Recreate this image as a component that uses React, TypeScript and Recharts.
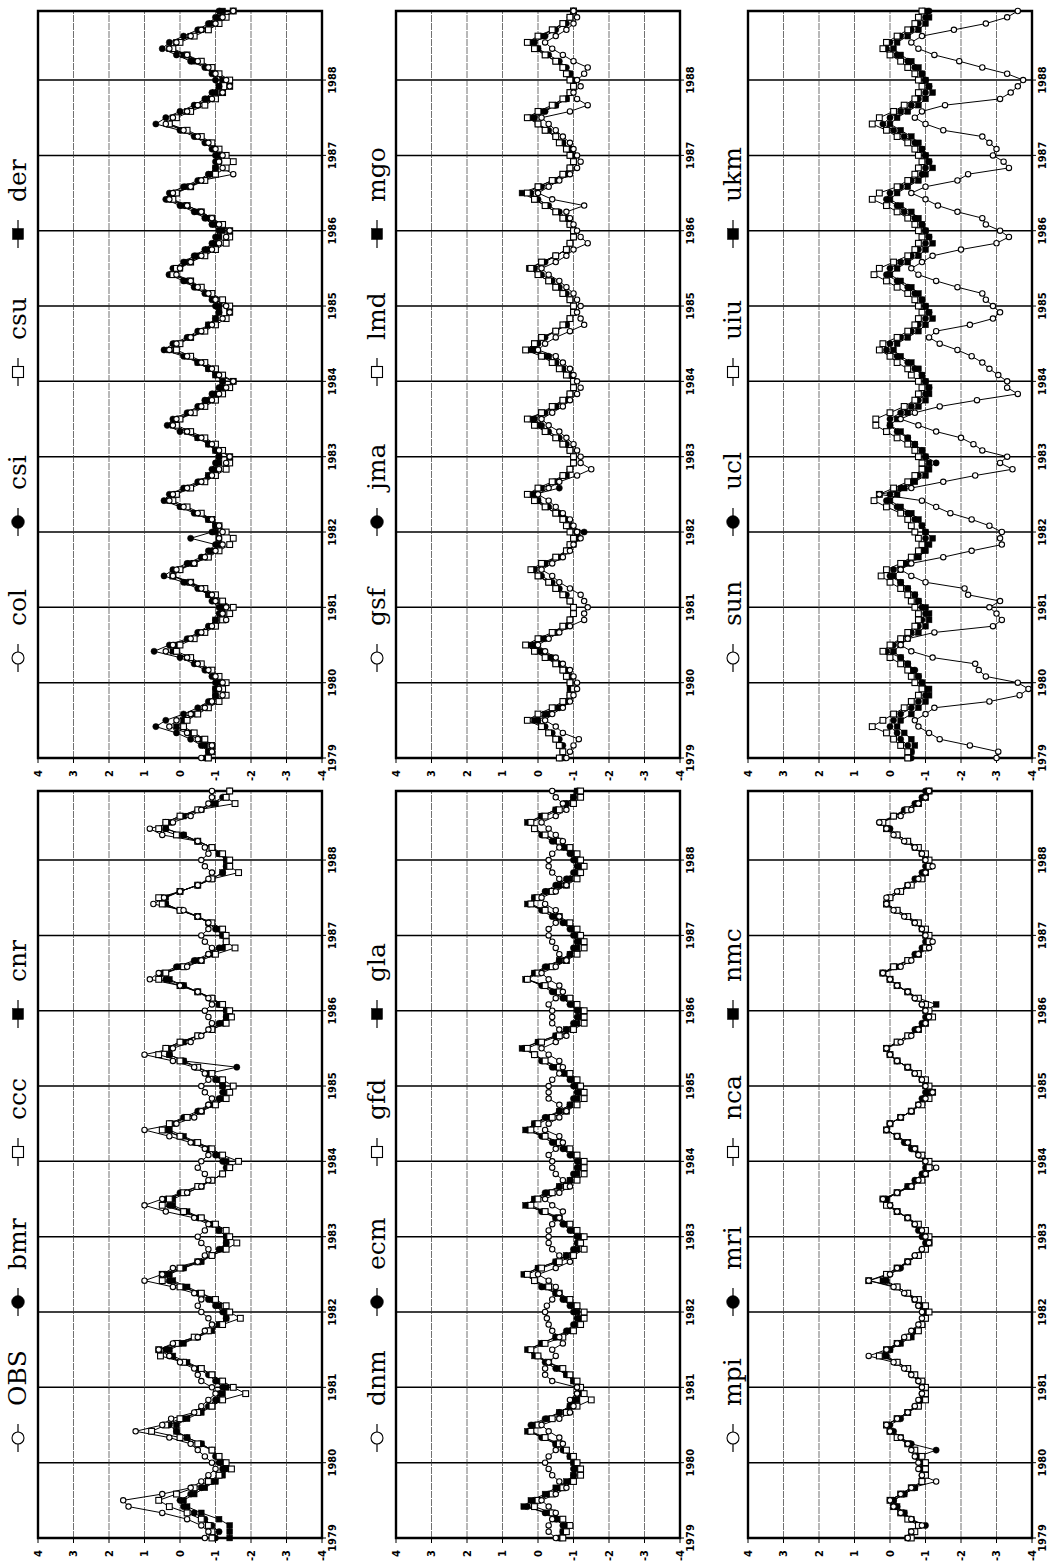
import React from 'react'
import { LineChart, Line, XAxis, YAxis, CartesianGrid, ReferenceArea } from 'recharts'

// monthly values Jan 1979 .. Dec 1988, one row per year
const YEARS = ['1979', '1980', '1981', '1982', '1983', '1984', '1985', '1986', '1987', '1988']
const YEAR_TICKS = [0, 12, 24, 36, 48, 60, 72, 84, 96, 108]
const Y_TICKS = [4, 3, 2, 1, 0, -1, -2, -3, -4]
const MONTHS = Array.from({ length: 120 }, (_, i) => i)

const OBS = [
  -0.7, -0.8, -0.6, -0.2, 0.5, 1.45, 1.6, 0.5, -0.3, -0.6, -0.8, -1.0,
  -0.9, -0.7, -0.5, -0.3, 0.3, 1.25, 0.5, 0.25, -0.4, -0.6, -0.8, -1.0,
  -0.9, -0.6, -0.5, -0.4, 0.0, 0.3, 0.6, 0.2, -0.5, -0.7, -0.9, -0.8,
  -0.6, -0.5, -0.6, -0.4, 0.2, 1.0, 0.5, 0.2, -0.5, -0.7, -0.8, -0.6,
  -0.5, -0.7, -0.8, -0.4, 0.4, 1.0, 0.5, -0.2, -0.6, -0.8, -0.7, -0.5,
  -0.6, -0.8, -0.7, -0.3, 0.3, 1.0, 0.1, -0.4, -0.6, -0.8, -0.9, -0.7,
  -0.6, -0.8, -0.7, -0.4, 0.2, 1.0, 0.2, -0.3, -0.6, -0.8, -0.9, -0.8,
  -0.7, -0.9, -0.8, -0.5, 0.0, 0.85, 0.6, -0.2, -0.6, -0.8, -0.9, -0.7,
  -0.6, -0.8, -0.8, -0.5, -0.1, 0.75, 0.45, 0.0, -0.5, -0.8, -0.9, -0.7,
  -0.6, -0.8, -0.7, -0.5, 0.5, 0.85, 0.2, -0.3, -0.6, -0.8, -0.9, -0.9,
]
const BMR = [
  -1.0, -1.1, -0.9, -0.7, -0.4, -0.1, 0.0, -0.3, -0.6, -0.9, -1.1, -1.2,
  -1.1, -1.0, -0.9, -0.6, -0.2, 0.1, 0.3, -0.1, -0.5, -0.8, -1.0, -1.1,
  -1.2, -1.0, -0.8, -0.5, -0.1, 0.3, 0.4, 0.0, -0.5, -0.8, -1.1, -1.3,
  -1.2, -1.0, -0.8, -0.5, -0.1, 0.3, 0.4, -0.1, -0.5, -0.9, -1.1, -1.3,
  -1.3, -1.1, -0.9, -0.5, -0.1, 0.3, 0.4, 0.0, -0.5, -0.9, -1.2, -1.3,
  -1.2, -1.0, -0.8, -0.4, 0.0, 0.4, 0.3, -0.1, -0.5, -0.8, -1.1, -1.2,
  -1.2, -1.0, -0.8, -1.6, -0.1, 0.3, 0.4, 0.0, -0.5, -0.9, -1.1, -1.3,
  -1.3, -1.1, -0.9, -0.5, -0.1, 0.4, 0.5, 0.1, -0.4, -0.8, -1.1, -1.3,
  -1.2, -1.0, -0.8, -0.5, 0.0, 0.4, 0.5, 0.0, -0.5, -0.9, -1.2, -1.3,
  -1.3, -1.1, -0.9, -0.5, -0.1, 0.4, 0.4, 0.0, -0.5, -0.9, -1.2, -1.4,
]
const CCC = [
  -0.9, -0.9, -0.8, -0.6, -0.2, 0.3, 0.6, 0.1, -0.4, -0.8, -1.1, -1.45,
  -1.3, -1.1, -0.9, -0.5, 0.0, 0.8, 0.4, 0.0, -0.5, -0.9, -1.2, -1.85,
  -1.5, -1.2, -0.9, -0.6, -0.1, 0.55, 0.6, 0.1, -0.4, -0.8, -1.2, -1.7,
  -1.4, -1.3, -1.0, -0.6, 0.0, 0.5, 0.5, 0.0, -0.5, -0.9, -1.3, -1.6,
  -1.4, -1.3, -1.0, -0.6, -0.1, 0.5, 0.3, -0.1, -0.5, -0.9, -1.2, -1.4,
  -1.65, -1.2, -0.9, -0.5, 0.0, 0.5, 0.3, -0.2, -0.6, -1.0, -1.3, -1.4,
  -1.5, -1.2, -0.9, -0.5, 0.0, 0.6, 0.4, 0.0, -0.5, -0.9, -1.3, -1.45,
  -1.4, -1.2, -0.9, -0.5, 0.0, 0.6, 0.4, -0.1, -0.6, -1.0, -1.55, -1.3,
  -1.3, -1.2, -0.9, -0.5, 0.0, 0.5, 0.6, 0.0, -0.5, -0.9, -1.65, -1.4,
  -1.4, -1.2, -0.9, -0.5, 0.1, 0.6, 0.4, 0.0, -0.5, -1.55, -1.3, -1.4,
]
const CNR = [
  -1.4, -1.4, -1.4, -1.1, -0.6, -0.2, -0.1, -0.4, -0.7, -1.0, -1.2, -1.3,
  -1.2, -1.1, -0.9, -0.6, -0.2, 0.1, 0.1, -0.2, -0.6, -0.9, -1.1, -1.2,
  -1.3, -1.1, -0.9, -0.6, -0.2, 0.2, 0.3, -0.1, -0.5, -0.9, -1.1, -1.3,
  -1.3, -1.1, -0.9, -0.6, -0.2, 0.2, 0.3, -0.1, -0.6, -0.9, -1.2, -1.3,
  -1.3, -1.1, -0.9, -0.6, -0.2, 0.2, 0.2, -0.2, -0.6, -0.9, -1.2, -1.4,
  -1.3, -1.1, -0.8, -0.5, -0.1, 0.3, 0.2, -0.2, -0.6, -0.9, -1.2, -1.3,
  -1.2, -1.1, -0.8, -0.5, -0.1, 0.3, 0.3, -0.1, -0.5, -0.9, -1.2, -1.3,
  -1.3, -1.1, -0.9, -0.5, -0.1, 0.3, 0.4, 0.0, -0.5, -0.9, -1.2, -1.3,
  -1.2, -1.1, -0.8, -0.5, 0.0, 0.4, 0.4, 0.0, -0.5, -0.9, -1.2, -1.3,
  -1.3, -1.1, -0.9, -0.5, -0.1, 0.4, 0.3, -0.1, -0.6, -1.0, -1.3, -1.4,
]

const DNM = [
  -0.5, -0.3, -0.3, -0.4, -0.5, -0.3, -0.1, -0.5, -0.8, -0.6, -0.4, -0.3,
  -0.2, -0.3, -0.5, -0.7, -0.6, -0.3, -0.1, -0.6, -0.9, -1.0, -0.9, -1.1,
  -1.1, -0.4, -0.2, -0.2, -0.3, -0.5, -0.4, -0.7, -0.6, -0.4, -0.3, -0.25,
  -0.2, -0.25, -0.4, -0.6, -0.5, -0.3, 0.0, -0.5, -0.9, -0.6, -0.4, -0.3,
  -0.3, -0.3, -0.4, -0.6, -0.7, -0.4, -0.2, -0.6, -0.9, -0.7, -0.5, -0.4,
  -0.4, -0.3, -0.5, -0.7, -0.6, -0.2, -0.3, -0.6, -0.8, -0.6, -0.3, -0.3,
  -0.3, -0.4, -0.6, -0.7, -0.6, -0.3, -0.1, -0.5, -0.8, -0.6, -0.4, -0.4,
  -0.4, -0.3, -0.5, -0.7, -0.6, -0.3, -0.1, -0.5, -0.8, -0.6, -0.5, -0.4,
  -0.3, -0.3, -0.5, -0.6, -0.5, -0.2, -0.1, -0.5, -0.8, -0.6, -0.4, -0.3,
  -0.3, -0.4, -0.6, -0.7, -0.5, -0.3, -0.1, -0.5, -0.8, -0.7, -0.5, -0.4,
]
const ECM = [
  -0.6, -0.7, -0.7, -0.5, -0.2, 0.3, 0.1, -0.3, -0.6, -0.9, -1.0, -1.0,
  -1.0, -0.9, -0.7, -0.5, -0.1, 0.25, 0.2, -0.2, -0.6, -0.9, -1.0, -1.1,
  -1.1, -1.0, -0.8, -0.5, -0.2, 0.0, 0.25, -0.1, -0.5, -0.8, -1.0, -1.1,
  -1.0, -0.9, -0.7, -0.5, -0.1, 0.1, 0.35, 0.0, -0.5, -0.8, -1.0, -1.1,
  -1.1, -0.9, -0.7, -0.5, -0.1, 0.3, 0.1, -0.2, -0.6, -0.9, -1.0, -1.1,
  -1.1, -0.9, -0.7, -0.4, -0.1, 0.3, 0.1, -0.2, -0.6, -0.9, -1.0, -1.1,
  -1.0, -0.9, -0.7, -0.4, -0.1, 0.1, 0.4, 0.0, -0.5, -0.8, -1.0, -1.1,
  -1.1, -0.9, -0.7, -0.4, -0.1, 0.3, 0.1, -0.2, -0.6, -0.9, -1.0, -1.1,
  -1.0, -0.9, -0.7, -0.4, -0.1, 0.25, 0.1, -0.2, -0.5, -0.8, -1.0, -1.1,
  -1.0, -0.9, -0.7, -0.4, -0.1, 0.1, 0.25, -0.1, -0.5, -0.8, -1.0, -1.1,
]
const GFD = [
  -0.7, -0.8, -0.9, -0.7, -0.4, 0.1, 0.0, -0.4, -0.7, -1.0, -1.2, -1.2,
  -1.1, -1.0, -0.8, -0.6, -0.2, 0.2, 0.0, -0.4, -0.8, -1.1, -1.5, -1.3,
  -1.2, -1.1, -0.9, -0.7, -0.3, 0.0, 0.2, -0.2, -0.7, -1.0, -1.2, -1.3,
  -1.3, -1.1, -0.9, -0.6, -0.3, 0.1, 0.3, -0.1, -0.6, -1.0, -1.3, -1.2,
  -1.3, -1.1, -0.9, -0.6, -0.2, 0.2, 0.0, -0.4, -0.8, -1.1, -1.3, -1.3,
  -1.3, -1.1, -0.9, -0.6, -0.2, 0.2, 0.0, -0.4, -0.8, -1.1, -1.3, -1.3,
  -1.2, -1.1, -0.9, -0.6, -0.2, 0.1, 0.3, -0.1, -0.6, -1.0, -1.3, -1.3,
  -1.3, -1.1, -0.9, -0.6, -0.2, 0.3, 0.0, -0.4, -0.8, -1.1, -1.3, -1.3,
  -1.2, -1.1, -0.9, -0.6, -0.2, 0.2, 0.0, -0.4, -0.8, -1.1, -1.2, -1.3,
  -1.2, -1.1, -0.9, -0.6, -0.2, 0.1, 0.2, -0.2, -0.6, -1.0, -1.2, -1.2,
]
const GLA = [
  -0.6, -0.7, -0.8, -0.6, -0.3, 0.4, 0.2, -0.2, -0.5, -0.8, -1.0, -1.1,
  -1.0, -0.9, -0.8, -0.5, -0.2, 0.3, 0.1, -0.3, -0.6, -0.9, -1.1, -1.2,
  -1.2, -1.0, -0.8, -0.6, -0.3, 0.1, 0.3, -0.1, -0.5, -0.9, -1.1, -1.2,
  -1.1, -1.0, -0.8, -0.5, -0.2, 0.1, 0.4, 0.0, -0.5, -0.8, -1.1, -1.2,
  -1.2, -1.0, -0.8, -0.5, -0.2, 0.35, 0.1, -0.3, -0.6, -0.9, -1.1, -1.2,
  -1.2, -1.0, -0.8, -0.5, -0.2, 0.35, 0.1, -0.3, -0.6, -0.9, -1.1, -1.2,
  -1.1, -1.0, -0.8, -0.5, -0.2, 0.1, 0.45, 0.0, -0.5, -0.8, -1.1, -1.2,
  -1.2, -1.0, -0.8, -0.5, -0.2, 0.35, 0.1, -0.3, -0.6, -0.9, -1.1, -1.2,
  -1.1, -1.0, -0.8, -0.5, -0.2, 0.3, 0.1, -0.3, -0.6, -0.9, -1.1, -1.2,
  -1.1, -1.0, -0.8, -0.5, -0.2, 0.1, 0.3, -0.1, -0.5, -0.8, -1.0, -1.1,
]

const MPI = [
  -0.5, -0.6, -0.9, -0.6, -0.3, -0.1, 0.0, -0.3, -0.6, -1.3, -0.9, -0.8,
  -0.8, -0.7, -0.6, -0.5, -0.3, 0.0, 0.1, -0.2, -0.5, -0.7, -0.8, -0.9,
  -0.9, -0.8, -0.6, -0.4, -0.1, 0.6, 0.1, -0.2, -0.4, -0.6, -0.8, -0.9,
  -0.9, -0.8, -0.7, -0.4, -0.1, 0.6, 0.0, -0.2, -0.5, -0.7, -0.9, -1.1,
  -1.0, -0.9, -0.7, -0.5, -0.2, 0.0, 0.2, -0.2, -0.6, -0.8, -1.0, -1.3,
  -1.0, -0.8, -0.7, -0.5, -0.2, 0.1, 0.0, -0.3, -0.6, -0.8, -1.0, -1.2,
  -1.0, -0.9, -0.7, -0.5, -0.2, 0.0, 0.1, -0.3, -0.6, -0.8, -1.0, -1.1,
  -1.0, -0.9, -0.7, -0.5, -0.2, 0.0, 0.2, -0.3, -0.6, -0.8, -1.1, -1.2,
  -1.0, -0.9, -0.7, -0.4, -0.1, 0.1, 0.1, -0.2, -0.5, -0.8, -1.0, -1.2,
  -1.0, -0.9, -0.7, -0.4, -0.1, 0.1, 0.3, -0.3, -0.6, -0.8, -1.0, -1.1,
]
const MRI = [
  -0.5, -0.6, -1.0, -0.6, -0.4, -0.2, -0.1, -0.4, -0.7, -0.9, -0.9, -0.9,
  -0.9, -0.8, -1.3, -0.6, -0.3, -0.1, 0.0, -0.3, -0.5, -0.7, -0.9, -0.9,
  -0.9, -0.8, -0.6, -0.5, -0.2, 0.1, 0.0, -0.2, -0.5, -0.7, -0.9, -1.0,
  -1.0, -0.8, -0.7, -0.5, -0.2, 0.1, 0.0, -0.3, -0.5, -0.7, -0.9, -1.0,
  -0.9, -0.8, -0.7, -0.5, -0.2, 0.0, 0.1, -0.2, -0.5, -0.7, -0.9, -1.0,
  -1.0, -0.8, -0.6, -0.4, -0.2, 0.1, 0.0, -0.3, -0.6, -0.8, -0.9, -1.0,
  -1.0, -0.9, -0.7, -0.5, -0.2, 0.0, 0.1, -0.2, -0.5, -0.7, -0.9, -1.0,
  -1.0, -0.9, -0.7, -0.5, -0.2, 0.0, 0.2, -0.1, -0.5, -0.7, -0.9, -1.0,
  -1.0, -0.9, -0.7, -0.5, -0.2, 0.1, 0.0, -0.3, -0.5, -0.7, -0.9, -1.0,
  -1.0, -0.9, -0.7, -0.5, -0.2, 0.0, 0.3, -0.1, -0.4, -0.7, -0.9, -1.0,
]
const NCA = [
  -0.6, -0.7, -0.8, -0.5, -0.3, -0.1, 0.0, -0.3, -0.6, -0.9, -1.0, -1.0,
  -1.0, -0.9, -0.7, -0.5, -0.2, 0.0, 0.1, -0.2, -0.5, -0.8, -1.0, -1.0,
  -1.0, -0.9, -0.7, -0.5, -0.2, 0.3, 0.1, -0.2, -0.5, -0.8, -0.9, -1.0,
  -1.1, -1.0, -0.8, -0.5, -0.2, 0.6, 0.1, -0.2, -0.5, -0.8, -1.0, -1.1,
  -1.1, -1.0, -0.8, -0.5, -0.2, 0.1, 0.2, -0.2, -0.6, -0.9, -1.0, -1.1,
  -1.1, -0.9, -0.7, -0.5, -0.2, 0.1, 0.0, -0.3, -0.6, -0.9, -1.1, -1.2,
  -1.1, -1.0, -0.8, -0.5, -0.2, 0.0, 0.1, -0.2, -0.5, -0.8, -1.0, -1.2,
  -1.1, -1.0, -0.8, -0.5, -0.2, 0.0, 0.2, -0.1, -0.5, -0.8, -1.0, -1.1,
  -1.1, -1.0, -0.8, -0.5, -0.2, 0.1, 0.0, -0.3, -0.6, -0.9, -1.0, -1.1,
  -1.1, -1.0, -0.8, -0.5, -0.2, 0.1, 0.2, -0.1, -0.5, -0.8, -1.0, -1.1,
]
const NMC = [
  -0.5, -0.6, -0.8, -0.6, -0.4, -0.2, -0.1, -0.4, -0.7, -0.9, -1.0, -1.0,
  -1.0, -0.8, -0.7, -0.5, -0.3, 0.0, 0.1, -0.2, -0.5, -0.8, -0.9, -1.0,
  -1.0, -0.9, -0.7, -0.5, -0.2, 0.2, 0.0, -0.3, -0.6, -0.8, -0.9, -1.0,
  -1.0, -0.9, -0.7, -0.5, -0.2, 0.2, 0.1, -0.2, -0.5, -0.8, -1.0, -1.1,
  -1.0, -0.9, -0.7, -0.5, -0.2, 0.0, 0.1, -0.2, -0.5, -0.8, -1.0, -1.1,
  -1.0, -0.9, -0.7, -0.5, -0.2, 0.1, 0.0, -0.3, -0.6, -0.8, -1.0, -1.1,
  -1.0, -0.9, -0.7, -0.5, -0.2, 0.0, 0.1, -0.2, -0.5, -0.8, -1.0, -1.1,
  -1.0, -1.3, -0.8, -0.5, -0.2, 0.0, 0.2, -0.2, -0.5, -0.8, -1.0, -1.1,
  -1.0, -0.9, -0.7, -0.5, -0.2, 0.1, 0.0, -0.3, -0.5, -0.8, -1.0, -1.1,
  -1.0, -0.9, -0.7, -0.5, -0.2, 0.1, 0.2, -0.1, -0.5, -0.8, -1.0, -1.1,
]

const COL = [
  -0.6, -0.9, -0.9, -0.5, -0.2, 0.3, 0.1, -0.3, -0.7, -0.9, -1.2, -1.1,
  -1.2, -1.0, -0.8, -0.5, -0.2, 0.4, 0.2, -0.3, -0.6, -0.9, -1.3, -1.2,
  -1.3, -1.0, -0.9, -0.6, -0.3, 0.2, 0.1, -0.4, -0.7, -1.0, -1.2, -1.1,
  -1.2, -1.1, -0.9, -0.5, -0.1, 0.3, 0.2, -0.2, -0.6, -0.9, -1.1, -1.3,
  -1.4, -1.1, -0.9, -0.6, -0.2, 0.2, 0.1, -0.3, -0.6, -0.9, -1.1, -1.3,
  -1.5, -1.1, -0.9, -0.6, -0.2, 0.3, 0.1, -0.3, -0.6, -0.9, -1.2, -1.4,
  -1.3, -1.0, -0.8, -0.5, -0.3, 0.1, 0.0, -0.3, -0.6, -0.9, -1.1, -1.3,
  -1.4, -1.1, -0.9, -0.6, -0.2, 0.3, 0.2, -0.3, -0.6, -1.5, -1.2, -1.1,
  -1.2, -1.0, -0.8, -0.5, -0.1, 0.4, 0.2, -0.2, -0.5, -0.9, -1.2, -1.4,
  -1.3, -1.0, -0.8, -0.5, -0.2, 0.3, 0.1, -0.3, -0.6, -1.0, -1.2, -1.5,
]
const CSI = [
  -0.7, -0.8, -0.6, -0.3, 0.1, 0.68, 0.4, -0.1, -0.5, -0.8, -1.0, -1.0,
  -1.0, -0.9, -0.7, -0.4, 0.0, 0.73, 0.3, -0.2, -0.5, -0.8, -1.0, -1.1,
  -1.1, -0.9, -0.8, -0.5, -0.1, 0.45, 0.2, -0.2, -0.6, -0.8, -1.0, -0.3,
  -0.9, -1.0, -0.8, -0.4, 0.0, 0.45, 0.3, -0.1, -0.5, -0.8, -0.9, -1.0,
  -1.1, -1.0, -0.8, -0.5, 0.0, 0.36, 0.2, -0.2, -0.5, -0.7, -0.9, -1.1,
  -1.2, -1.0, -0.8, -0.5, -0.1, 0.45, 0.2, -0.2, -0.5, -0.8, -1.0, -1.1,
  -1.0, -0.9, -0.7, -0.4, -0.1, 0.31, 0.2, -0.1, -0.4, -0.7, -0.9, -1.0,
  -1.1, -0.9, -0.7, -0.4, 0.0, 0.4, 0.3, -0.1, -0.5, -0.8, -1.0, -1.0,
  -1.0, -0.9, -0.7, -0.4, 0.0, 0.68, 0.4, 0.0, -0.4, -0.7, -0.9, -1.1,
  -1.0, -0.9, -0.7, -0.3, 0.1, 0.5, 0.3, -0.1, -0.5, -0.8, -1.0, -1.1,
]
const CSU = [
  -0.8, -0.9, -0.9, -0.7, -0.4, -0.1, -0.2, -0.5, -0.8, -1.1, -1.3, -1.2,
  -1.3, -1.1, -0.9, -0.6, -0.3, 0.1, 0.0, -0.4, -0.7, -1.0, -1.2, -1.4,
  -1.5, -1.2, -1.0, -0.7, -0.3, 0.2, 0.0, -0.4, -0.8, -1.1, -1.4, -1.5,
  -1.3, -1.1, -0.9, -0.6, -0.2, 0.2, 0.1, -0.3, -0.7, -1.0, -1.3, -1.4,
  -1.4, -1.2, -1.0, -0.7, -0.3, 0.1, 0.0, -0.4, -0.7, -1.0, -1.2, -1.4,
  -1.5, -1.2, -1.0, -0.7, -0.3, 0.1, 0.0, -0.3, -0.7, -1.0, -1.3, -1.4,
  -1.4, -1.2, -0.9, -0.6, -0.3, 0.2, 0.1, -0.3, -0.7, -1.0, -1.3, -1.4,
  -1.4, -1.2, -0.9, -0.6, -0.2, 0.2, 0.1, -0.3, -0.7, -1.0, -1.3, -1.5,
  -1.3, -1.1, -0.9, -0.6, -0.2, 0.3, 0.1, -0.3, -0.7, -1.0, -1.2, -1.4,
  -1.4, -1.1, -0.9, -0.6, -0.2, 0.2, 0.0, -0.4, -0.8, -1.1, -1.3, -1.5,
]
const DER = [
  -0.8, -0.8, -0.7, -0.6, -0.3, 0.1, -0.1, -0.4, -0.7, -0.9, -1.0, -1.0,
  -1.1, -1.0, -0.8, -0.5, -0.2, 0.2, 0.1, -0.3, -0.6, -0.9, -1.0, -1.2,
  -1.2, -1.0, -0.8, -0.6, -0.2, 0.2, 0.0, -0.3, -0.7, -0.9, -1.1, -1.1,
  -1.0, -1.0, -0.8, -0.5, -0.1, 0.3, 0.1, -0.2, -0.6, -0.8, -1.0, -1.1,
  -1.1, -1.0, -0.8, -0.5, -0.2, 0.2, 0.0, -0.3, -0.6, -0.8, -1.0, -1.2,
  -1.2, -1.0, -0.8, -0.5, -0.2, 0.3, 0.1, -0.3, -0.6, -0.8, -1.0, -1.1,
  -1.1, -1.0, -0.8, -0.5, -0.2, 0.2, 0.0, -0.2, -0.5, -0.8, -1.0, -1.1,
  -1.2, -1.0, -0.8, -0.5, -0.1, 0.3, 0.1, -0.2, -0.6, -0.9, -1.0, -1.1,
  -1.1, -1.0, -0.8, -0.5, -0.1, 0.3, 0.2, -0.2, -0.5, -0.8, -1.0, -1.1,
  -1.2, -1.0, -0.8, -0.4, -0.1, 0.3, 0.1, -0.3, -0.6, -0.9, -1.1, -1.2,
]

const GSF = [
  -0.8, -0.9, -1.0, -1.15, -0.7, -0.5, -0.2, -0.4, -0.7, -0.9, -1.0, -1.1,
  -1.1, -1.0, -0.9, -0.7, -0.5, -0.2, 0.0, -0.3, -0.6, -0.9, -1.3, -1.3,
  -1.4, -1.3, -1.2, -0.9, -0.6, -0.4, -0.1, -0.4, -0.7, -0.9, -1.0, -1.2,
  -1.1, -1.0, -0.9, -0.7, -0.5, -0.3, 0.0, -0.3, -0.6, -1.1, -1.5, -1.2,
  -1.2, -1.1, -1.0, -0.8, -0.6, -0.3, -0.1, -0.4, -0.7, -0.9, -1.1, -1.2,
  -1.1, -1.0, -0.9, -0.7, -0.5, 0.0, -0.2, -0.5, -0.9, -1.3, -1.2, -1.1,
  -1.2, -1.1, -1.0, -0.8, -0.6, -0.3, -0.1, -0.5, -0.8, -1.0, -1.4, -1.2,
  -1.1, -1.0, -0.9, -0.8, -1.3, -0.4, 0.0, -0.3, -0.6, -0.9, -1.1, -1.2,
  -1.1, -1.0, -0.9, -0.7, -0.5, -0.3, -0.1, -0.9, -1.4, -1.1, -1.0, -1.2,
  -1.1, -1.3, -1.4, -1.0, -0.7, -0.4, -0.2, -0.5, -0.8, -1.0, -1.1, -1.0,
]
const JMA = [
  -0.6, -0.7, -0.7, -0.6, -0.4, -0.2, 0.0, -0.3, -0.6, -0.8, -0.9, -1.0,
  -0.9, -0.9, -0.8, -0.6, -0.4, -0.1, 0.1, -0.2, -0.5, -0.8, -0.9, -1.0,
  -1.0, -0.9, -0.8, -0.6, -0.4, -0.1, 0.1, -0.2, -0.6, -0.8, -0.9, -1.0,
  -1.3, -0.9, -0.8, -0.6, -0.3, 0.0, 0.1, -0.6, -0.5, -0.7, -0.9, -1.0,
  -1.0, -0.9, -0.8, -0.6, -0.3, -0.1, 0.1, -0.2, -0.5, -0.8, -0.9, -1.0,
  -1.0, -0.9, -0.7, -0.5, -0.3, 0.1, 0.0, -0.2, -0.5, -0.8, -0.9, -1.0,
  -1.0, -0.9, -0.8, -0.6, -0.4, -0.1, 0.1, -0.2, -0.5, -0.8, -0.9, -1.0,
  -1.0, -0.9, -0.8, -0.6, -0.3, 0.0, 0.2, -0.1, -0.5, -0.8, -0.9, -1.0,
  -1.0, -0.9, -0.7, -0.5, -0.3, 0.0, 0.1, -0.2, -0.5, -0.8, -0.9, -1.0,
  -1.0, -0.9, -0.8, -0.6, -0.3, 0.0, 0.1, -0.2, -0.5, -0.8, -0.9, -1.0,
]
const LMD = [
  -0.6, -0.7, -0.6, -0.5, -0.3, -0.1, 0.3, 0.0, -0.4, -0.7, -0.9, -1.0,
  -0.9, -0.8, -0.7, -0.5, -0.2, 0.1, 0.35, 0.0, -0.4, -0.7, -0.9, -1.0,
  -1.0, -0.9, -0.7, -0.5, -0.3, 0.0, 0.2, -0.1, -0.5, -0.8, -0.9, -1.0,
  -0.9, -0.8, -0.7, -0.5, -0.2, 0.1, 0.3, 0.0, -0.4, -0.7, -0.9, -1.0,
  -1.0, -0.9, -0.7, -0.5, -0.2, 0.1, 0.3, -0.1, -0.4, -0.7, -0.9, -1.0,
  -1.0, -0.8, -0.6, -0.4, -0.1, 0.35, 0.1, -0.1, -0.5, -0.7, -0.9, -1.0,
  -1.0, -0.9, -0.7, -0.5, -0.3, 0.0, 0.2, -0.1, -0.5, -0.8, -0.9, -1.0,
  -1.0, -0.9, -0.7, -0.5, -0.2, 0.1, 0.3, 0.0, -0.4, -0.7, -0.9, -1.0,
  -0.9, -0.8, -0.6, -0.5, -0.2, 0.0, 0.3, 0.0, -0.4, -0.7, -0.9, -1.0,
  -0.9, -0.8, -0.7, -0.5, -0.2, 0.1, 0.3, 0.0, -0.4, -0.7, -0.9, -1.0,
]
const MGO = [
  -0.7, -0.7, -0.6, -0.5, -0.3, -0.1, 0.1, -0.2, -0.5, -0.8, -0.9, -0.9,
  -0.9, -0.8, -0.7, -0.5, -0.3, 0.0, 0.2, -0.1, -0.5, -0.7, -0.9, -1.0,
  -1.0, -0.9, -0.7, -0.5, -0.3, 0.0, 0.15, -0.2, -0.5, -0.8, -1.0, -1.1,
  -1.1, -0.9, -0.7, -0.5, -0.2, 0.0, 0.2, -0.1, -0.5, -0.8, -0.9, -1.0,
  -1.0, -0.9, -0.7, -0.5, -0.2, 0.0, 0.2, -0.1, -0.5, -0.7, -0.9, -1.0,
  -1.0, -0.9, -0.7, -0.5, -0.2, 0.2, 0.1, -0.1, -0.5, -0.8, -0.9, -1.0,
  -1.0, -0.9, -0.7, -0.5, -0.3, 0.0, 0.25, -0.1, -0.5, -0.8, -0.9, -1.0,
  -1.0, -0.9, -0.7, -0.5, -0.2, 0.1, 0.45, 0.0, -0.4, -0.7, -0.9, -1.0,
  -0.9, -0.9, -0.7, -0.5, -0.2, 0.0, 0.2, -0.1, -0.5, -0.8, -0.9, -1.0,
  -0.9, -0.9, -0.7, -0.5, -0.2, 0.0, 0.2, -0.1, -0.4, -0.7, -0.9, -1.0,
]

const SUN = [
  -3.0, -3.05, -2.25, -1.4, -1.1, -0.8, -0.7, -1.0, -1.25, -2.8, -3.65, -3.9,
  -3.6, -2.7, -2.5, -2.4, -1.2, -0.6, -0.3, -0.5, -1.25, -2.9, -3.15, -3.0,
  -2.8, -3.1, -2.2, -2.1, -1.0, -0.6, -0.3, -0.6, -1.5, -2.3, -3.15, -3.1,
  -3.15, -2.8, -2.3, -1.7, -1.3, -0.9, 0.3, -0.6, -1.5, -2.4, -3.45, -3.1,
  -3.3, -2.6, -2.35, -2.0, -1.3, -0.8, -0.3, -0.7, -1.4, -2.45, -3.6, -3.3,
  -3.3, -3.05, -2.8, -2.6, -2.3, -1.9, -1.4, -1.1, -1.3, -2.25, -2.9, -3.1,
  -2.9, -2.7, -2.6, -1.9, -1.3, -0.8, -0.6, -0.9, -1.2, -2.0, -3.0, -3.35,
  -3.1, -2.7, -2.6, -1.9, -1.35, -1.0, -0.6, -1.0, -1.9, -2.2, -3.35, -3.2,
  -2.9, -3.0, -2.8, -2.6, -1.5, -1.0, -0.7, -0.9, -1.55, -3.1, -3.4, -3.6,
  -3.75, -3.3, -2.6, -1.95, -1.25, -0.8, -0.6, -0.9, -1.8, -2.7, -3.3, -3.6,
]
const UCL = [
  -0.6, -0.6, -0.5, -0.3, -0.2, 0.0, -0.1, -0.3, -0.6, -0.8, -1.0, -1.0,
  -0.9, -0.8, -0.7, -0.5, -0.3, 0.1, -0.1, -0.3, -0.6, -0.8, -0.9, -1.0,
  -0.9, -0.8, -0.7, -0.5, -0.3, 0.0, -0.1, -0.4, -0.7, -0.9, -1.0, -1.0,
  -1.0, -0.9, -0.7, -0.5, -0.2, 0.1, 0.0, -0.3, -0.6, -0.8, -1.0, -1.3,
  -1.0, -0.9, -0.7, -0.5, -0.2, 0.0, 0.0, -0.3, -0.6, -0.8, -1.0, -1.1,
  -1.0, -0.9, -0.7, -0.5, -0.2, 0.1, 0.0, -0.3, -0.6, -0.8, -1.0, -1.1,
  -1.0, -0.9, -0.7, -0.5, -0.2, 0.1, 0.0, -0.3, -0.6, -0.8, -1.0, -1.1,
  -1.0, -0.9, -0.7, -0.4, -0.2, 0.1, 0.0, -0.3, -0.6, -0.9, -1.0, -1.1,
  -1.0, -0.9, -0.7, -0.4, -0.1, 0.2, 0.0, -0.3, -0.6, -0.8, -1.0, -1.1,
  -1.0, -0.9, -0.7, -0.5, -0.2, 0.1, 0.0, -0.3, -0.6, -0.8, -1.0, -1.1,
]
const UIU = [
  -0.5, -0.5, -0.3, -0.1, 0.1, 0.5, 0.2, -0.1, -0.4, -0.6, -0.8, -0.9,
  -0.7, -0.6, -0.5, -0.3, 0.0, 0.2, 0.0, -0.3, -0.5, -0.7, -0.8, -0.8,
  -0.7, -0.6, -0.5, -0.3, 0.0, 0.25, 0.1, -0.3, -0.6, -0.8, -0.9, -0.8,
  -0.7, -0.6, -0.5, -0.3, 0.1, 0.45, 0.3, -0.1, -0.5, -0.7, -0.9, -0.9,
  -0.8, -0.7, -0.5, -0.2, 0.1, 0.4, 0.4, 0.0, -0.4, -0.7, -0.8, -0.9,
  -0.8, -0.6, -0.5, -0.2, 0.0, 0.3, 0.2, -0.2, -0.5, -0.7, -0.8, -0.9,
  -0.8, -0.7, -0.5, -0.2, 0.1, 0.45, 0.3, -0.1, -0.5, -0.7, -0.8, -0.9,
  -0.8, -0.7, -0.5, -0.2, 0.1, 0.5, 0.3, -0.2, -0.5, -0.7, -0.8, -0.9,
  -0.8, -0.7, -0.5, -0.2, 0.1, 0.5, 0.3, -0.1, -0.4, -0.7, -0.8, -0.9,
  -0.8, -0.7, -0.5, -0.3, 0.0, 0.2, 0.1, -0.2, -0.5, -0.7, -0.8, -0.9,
]
const UKM = [
  -0.5, -0.6, -0.7, -0.6, -0.4, -0.2, -0.3, -0.6, -0.8, -1.0, -1.1, -1.1,
  -0.9, -0.8, -0.6, -0.5, -0.3, -0.1, -0.3, -0.5, -0.8, -1.0, -1.1, -1.1,
  -1.0, -0.8, -0.7, -0.5, -0.3, -0.1, -0.3, -0.5, -0.8, -1.0, -1.1, -1.2,
  -1.0, -0.9, -0.8, -0.6, -0.3, 0.0, -0.2, -0.4, -0.7, -1.0, -1.1, -1.1,
  -1.0, -0.9, -0.7, -0.5, -0.3, 0.0, -0.2, -0.5, -0.8, -1.0, -1.1, -1.1,
  -1.0, -0.9, -0.8, -0.6, -0.3, -0.1, -0.2, -0.5, -0.8, -1.0, -1.2, -1.1,
  -1.0, -0.9, -0.8, -0.6, -0.3, 0.0, -0.2, -0.5, -0.8, -1.0, -1.2, -1.1,
  -1.0, -0.9, -0.8, -0.6, -0.3, 0.0, -0.2, -0.5, -0.8, -1.0, -1.2, -1.1,
  -1.0, -0.9, -0.8, -0.6, -0.3, 0.0, -0.2, -0.5, -0.8, -1.0, -1.2, -1.1,
  -1.0, -0.9, -0.8, -0.6, -0.3, -0.1, -0.2, -0.5, -0.8, -1.0, -1.1, -1.0,
]

type Shape = 'openCircle' | 'dot' | 'openSquare' | 'square'
const SHAPES: Shape[] = ['openCircle', 'dot', 'openSquare', 'square']
const KEYS = ['a', 'b', 'c', 'd']
// filled marks first so the open ones stay visible on top
const DRAW_ORDER = [3, 1, 2, 0]

// page is laid out upright (1567 x 1053) and then turned a quarter to the left
const PAGE_W = 1567
const PAGE_H = 1053
const COL_X = [29, 809]
const ROW_Y = [38, 396, 748]
const LEGEND_Y = [18, 377, 733]
const LEGEND_OFFSETS = [86, 222, 372, 510]
const PLOT_W = 747
const PLOT_H = 284

const PANELS = [
  { names: ['OBS', 'bmr', 'ccc', 'cnr'], series: [OBS, BMR, CCC, CNR], col: 0, row: 0 },
  { names: ['dnm', 'ecm', 'gfd', 'gla'], series: [DNM, ECM, GFD, GLA], col: 0, row: 1 },
  { names: ['mpi', 'mri', 'nca', 'nmc'], series: [MPI, MRI, NCA, NMC], col: 0, row: 2 },
  { names: ['col', 'csi', 'csu', 'der'], series: [COL, CSI, CSU, DER], col: 1, row: 0 },
  { names: ['gsf', 'jma', 'lmd', 'mgo'], series: [GSF, JMA, LMD, MGO], col: 1, row: 1 },
  { names: ['sun', 'ucl', 'uiu', 'ukm'], series: [SUN, UCL, UIU, UKM], col: 1, row: 2 },
]

const SERIF = "'DejaVu Serif', 'Liberation Serif', serif"
const NARROW = "'Liberation Sans Narrow', 'DejaVu Sans Condensed', 'Arial Narrow', sans-serif"

function Marker({ shape, x, y, size }: { shape: Shape; x: number; y: number; size: number }) {
  const h = size / 2
  switch (shape) {
    case 'openCircle':
      return <circle cx={x} cy={y} r={h} fill="#fff" stroke="#000" strokeWidth={1.1} />
    case 'dot':
      return <circle cx={x} cy={y} r={h + 0.4} fill="#000" stroke="#000" strokeWidth={0.5} />
    case 'openSquare':
      return <rect x={x - h} y={y - h} width={size} height={size} fill="#fff" stroke="#000" strokeWidth={1.1} />
    default:
      return <rect x={x - h} y={y - h} width={size} height={size} fill="#000" stroke="#000" strokeWidth={0.5} />
  }
}

const makeDot = (shape: Shape) => (props: any) => {
  const { cx, cy, index } = props
  if (cx == null || cy == null) return <g key={index} />
  return (
    <g key={index}>
      <Marker shape={shape} x={cx} y={cy} size={shape === 'openCircle' || shape === 'dot' ? 5.4 : 5.8} />
    </g>
  )
}

function LegendItem({ name, shape, left, top }: { name: string; shape: Shape; left: number; top: number }) {
  return (
    <div
      style={{
        position: 'absolute',
        left,
        top: top - 16,
        height: 32,
        display: 'flex',
        alignItems: 'center',
        whiteSpace: 'nowrap',
      }}
    >
      <svg width={28} height={16}>
        <line x1={0} y1={8} x2={28} y2={8} stroke="#000" strokeWidth={1.2} />
        <Marker shape={shape} x={14} y={8} size={shape === 'openSquare' || shape === 'square' ? 11 : 12} />
      </svg>
      <span style={{ marginLeft: 18, fontFamily: SERIF, fontSize: 25, lineHeight: '32px', color: '#000' }}>
        {name}
      </span>
    </div>
  )
}

function Panel({ names, series, col, row }: (typeof PANELS)[number]) {
  const data = MONTHS.map((m, i) => ({
    m,
    a: series[0][i],
    b: series[1][i],
    c: series[2][i],
    d: series[3][i],
  }))
  const left = COL_X[col]
  const top = ROW_Y[row]
  const axisFont = { fontSize: 11, fontWeight: 700, fontFamily: NARROW, fill: '#000' }

  return (
    <>
      {names.map((n, i) => (
        <LegendItem key={n} name={n} shape={SHAPES[i]} left={left + LEGEND_OFFSETS[i]} top={LEGEND_Y[row]} />
      ))}
      <div style={{ position: 'absolute', left: left - 45, top: top - 10 }}>
        <LineChart
          width={45 + PLOT_W + 12}
          height={10 + PLOT_H + 30}
          data={data}
          margin={{ top: 10, right: 12, bottom: 0, left: 0 }}
        >
          <CartesianGrid horizontal={false} stroke="#000" strokeWidth={1.5} />
          <CartesianGrid vertical={false} stroke="#333" strokeWidth={0.7} strokeDasharray="7 1" />
          <XAxis
            dataKey="m"
            type="number"
            domain={[0, 119]}
            ticks={YEAR_TICKS}
            tickFormatter={(v: number) => YEARS[Math.round(v / 12)]}
            tick={axisFont}
            tickSize={4}
            tickMargin={2}
            height={30}
            axisLine={false}
            tickLine={{ stroke: '#000' }}
            interval={0}
          />
          <YAxis
            type="number"
            domain={[-4, 4]}
            ticks={Y_TICKS}
            tick={axisFont}
            tickSize={5}
            tickMargin={7}
            width={45}
            axisLine={false}
            tickLine={{ stroke: '#000' }}
            interval={0}
          />
          {DRAW_ORDER.map((i) => (
            <Line
              key={KEYS[i]}
              dataKey={KEYS[i]}
              type="linear"
              stroke="#000"
              strokeWidth={1}
              dot={makeDot(SHAPES[i])}
              activeDot={false}
              isAnimationActive={false}
            />
          ))}
          <ReferenceArea x1={0} x2={119} y1={-4} y2={4} fill="none" stroke="#000" strokeWidth={2.4} />
        </LineChart>
      </div>
    </>
  )
}

export default function App() {
  return (
    <div
      style={{
        position: 'absolute',
        left: 0,
        top: 0,
        width: PAGE_H,
        height: PAGE_W,
        background: '#fff',
        overflow: 'hidden',
      }}
    >
      <div
        style={{
          position: 'absolute',
          left: 0,
          top: 0,
          width: PAGE_W,
          height: PAGE_H,
          transformOrigin: '0 0',
          transform: `translateY(${PAGE_W}px) rotate(-90deg)`,
        }}
      >
        {PANELS.map((p) => (
          <Panel key={p.names[0]} {...p} />
        ))}
      </div>
    </div>
  )
}
